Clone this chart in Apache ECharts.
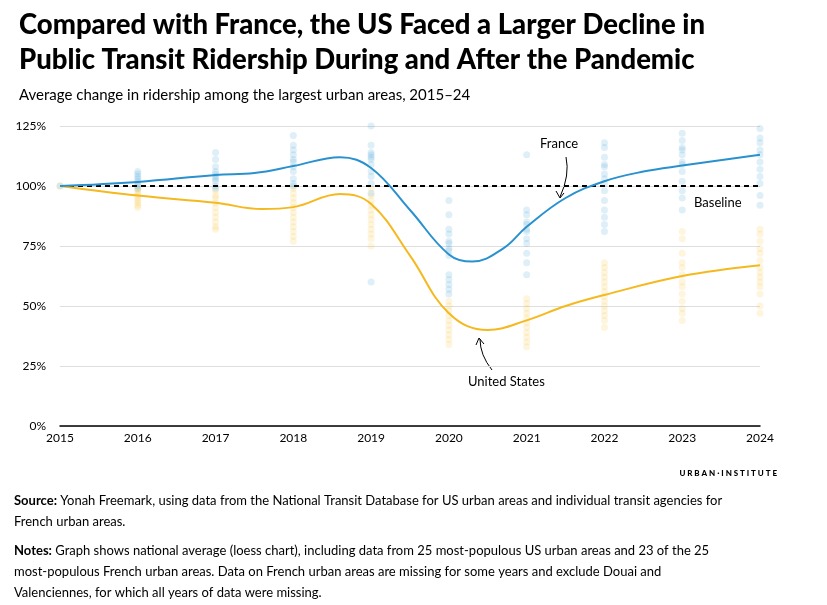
<!DOCTYPE html>
<html>
<head>
<meta charset="UTF-8">
<title>Transit ridership</title>
<script src="https://cdn.jsdelivr.net/npm/echarts@6/dist/echarts.min.js"></script>
<style>
  body { margin: 0; background: #fff; font-family: Lato, "Open Sans", sans-serif; }
  #chart { width: 827px; height: 605px; }
</style>
</head>
<body>
<div id="chart"></div>
<script>
    var years = [2015, 2016, 2017, 2018, 2019, 2020, 2021, 2022, 2023, 2024];
    // loess curves, read at points along the line
    var franceX = [2015, 2016, 2017, 2017.5, 2018, 2018.6, 2019, 2019.5, 2020, 2020.3, 2020.7, 2021, 2021.5, 2022, 2022.5, 2023, 2024];
    var franceY = [100, 101.7, 104.6, 105.4, 108.3, 112, 107.5, 90, 71.5, 68.5, 74, 83, 95, 102, 106, 108.5, 113];
    var usX = [2015, 2016, 2017, 2017.6, 2018, 2018.6, 2019, 2019.5, 2020, 2020.5, 2021, 2021.5, 2022, 2023, 2024];
    var usY = [100, 96, 93, 90.4, 91.2, 96.7, 92.5, 71, 47, 40, 44, 50, 54.6, 62.5, 67];
    // individual urban areas per year
    var franceDots = [
        [100],
        [106, 105, 104, 103, 102, 101, 100, 99],
        [114, 111, 108, 106, 105, 104, 103, 102, 100, 99],
        [126, 121, 117, 115, 113, 111, 110, 108, 106, 103, 101, 100],
        [125, 117, 114, 113, 112, 111, 109, 106, 104, 101, 97, 60],
        [94, 88, 82, 80, 77, 76, 74, 73, 71, 63, 61, 59, 57, 55],
        [113, 90, 88, 85, 84, 82, 81, 78, 76, 72, 68, 63],
        [118, 116, 112, 109, 108, 105, 103, 101, 98, 94, 90, 87, 84, 81],
        [122, 119, 116, 115, 113, 110, 109, 106, 102, 98, 95, 90],
        [126, 124, 120, 118, 115, 113, 110, 107, 104, 101, 96, 92]
    ];
    var usDots = [
        [100],
        [99, 98, 97, 96, 95, 94, 93, 92, 91],
        [98, 96, 95, 93, 91, 89, 87, 85, 83, 82],
        [99, 97, 95, 93, 91, 89, 87, 85, 83, 81, 79, 77],
        [99, 96, 94, 92, 90, 88, 86, 84, 82, 80, 78, 75],
        [52, 50, 48, 46, 44, 42, 40, 38, 36, 34],
        [53, 51, 49, 47, 45, 43, 41, 39, 37, 35, 33],
        [68, 66, 64, 62, 60, 58, 56, 54, 52, 50, 48, 46, 44, 41],
        [81, 78, 72, 68, 66, 63, 60, 58, 55, 52, 49, 47, 44],
        [82, 80, 77, 74, 72, 69, 66, 64, 62, 60, 58, 55, 50, 47]
    ];
    var yTicks = [0, 25, 50, 75, 100, 125];

    function pairs(xs, ys) {
        return xs.map(function (x, i) { return [x, ys[i]]; });
    }
    function dots(list) {
        var out = [];
        list.forEach(function (vals, i) {
            vals.forEach(function (v) { out.push([years[i], v]); });
        });
        return out;
    }

    var blue = '#2a91cf', gold = '#f5b920';
    var chart = echarts.init(document.getElementById('chart'));
    chart.setOption({
        animation: false,
        textStyle: { fontFamily: 'Lato' },
        title: [
            { text: 'Compared with France, the US Faced a Larger Decline in\nPublic Transit Ridership During and After the Pandemic',
              left: 14, top: 3, textStyle: { fontSize: 27.5, fontWeight: 900, color: '#000', lineHeight: 35 } },
            { text: 'Average change in ridership among the largest urban areas, 2015\u201324',
              left: 14, top: 83, textStyle: { fontSize: 15, fontWeight: 'normal', color: '#000' } }
        ],
        grid: { left: 60, right: 67, top: 126, bottom: 179 },
        xAxis: {
            type: 'value', min: 2015, max: 2024, interval: 1,
            axisLine: { lineStyle: { color: '#000', width: 1.5 } },
            axisTick: { show: false }, splitLine: { show: false },
            axisLabel: { color: '#000', fontSize: 12, margin: 6, formatter: function (v) { return String(v); } }
        },
        yAxis: {
            type: 'value', min: 0, max: 125, interval: 25,
            axisLine: { show: false }, axisTick: { show: false },
            splitLine: { lineStyle: { color: '#dedede' } },
            axisLabel: { color: '#000', fontSize: 12, margin: 14, formatter: function (v) { return yTicks.indexOf(v) >= 0 ? v + '%' : ''; } }
        },
        series: [
            { type: 'scatter', data: dots(usDots), symbolSize: 7, itemStyle: { color: gold, opacity: 0.15 }, silent: true },
            { type: 'scatter', data: dots(franceDots), symbolSize: 7, itemStyle: { color: blue, opacity: 0.15 }, silent: true },
            { type: 'line', data: [[2015, 100], [2024, 100]], symbol: 'none',
              lineStyle: { color: '#000', type: [5, 4], width: 2 } },
            { type: 'line', data: pairs(usX, usY), smooth: 0.4, symbol: 'none', lineStyle: { color: gold, width: 2 } },
            { type: 'line', data: pairs(franceX, franceY), smooth: 0.4, symbol: 'none', lineStyle: { color: blue, width: 2 } }
        ],
        graphic: [
            { type: 'text', left: 540, top: 137, style: { text: 'France', fontSize: 13, fill: '#000', fontFamily: 'Lato' } },
            { type: 'text', left: 694, top: 196, style: { text: 'Baseline', fontSize: 13, fill: '#000', fontFamily: 'Lato' } },
            { type: 'text', left: 468, top: 375, style: { text: 'United States', fontSize: 13, fill: '#000', fontFamily: 'Lato' } },
            { type: 'bezierCurve', shape: { x1: 566, y1: 157, cpx1: 570, cpy1: 175, x2: 560, y2: 197 }, style: { stroke: '#000', lineWidth: 1, fill: null } },
            { type: 'polyline', shape: { points: [[556, 191], [560, 198], [564, 193]] }, style: { stroke: '#000', lineWidth: 1, fill: null } },
            { type: 'bezierCurve', shape: { x1: 492, y1: 370, cpx1: 480, cpy1: 355, x2: 480, y2: 339 }, style: { stroke: '#000', lineWidth: 1, fill: null } },
            { type: 'polyline', shape: { points: [[476, 345], [479, 338], [484, 344]] }, style: { stroke: '#000', lineWidth: 1, fill: null } },
            { type: 'text', right: 50, top: 469, style: { text: 'U R B A N \u00b7 I N S T I T U T E', fontSize: 8, fontWeight: 900, fill: '#000', fontFamily: 'Lato' } },
            { type: 'text', left: 14, top: 490, style: {
                rich: { b: { fontWeight: 'bold', fontSize: 13, fontFamily: 'Lato', fill: '#000' }, n: { fontSize: 13, fontFamily: 'Lato', fill: '#000' } },
                text: '{b|Source:} {n|Yonah Freemark, using data from the National Transit Database for US urban areas and individual transit agencies for}\n{n|French urban areas.}', lineHeight: 21 } },
            { type: 'text', left: 14, top: 540, style: {
                rich: { b: { fontWeight: 'bold', fontSize: 13, fontFamily: 'Lato', fill: '#000' }, n: { fontSize: 13, fontFamily: 'Lato', fill: '#000' } },
                text: '{b|Notes:} {n|Graph shows national average (loess chart), including data from 25 most-populous US urban areas and 23 of the 25}\n{n|most-populous French urban areas. Data on French urban areas are missing for some years and exclude Douai and}\n{n|Valenciennes, for which all years of data were missing.}', lineHeight: 21 } }
        ]
    });
</script>
</body>
</html>
